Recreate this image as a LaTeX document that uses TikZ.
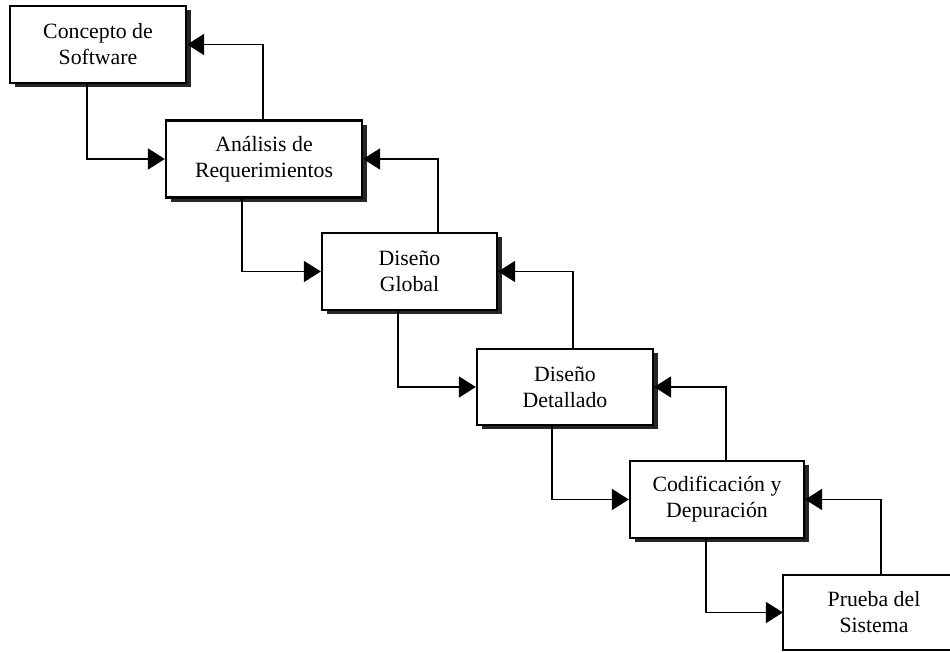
\documentclass[tikz,border=0pt]{standalone}
\usepackage{fontspec}
\setmainfont{Liberation Serif}
\usepackage{tikz}
\usetikzlibrary{arrows.meta, shadows, positioning, calc}
\tikzstyle{arrow} = [line width=1pt, black, -{Triangle[length=0.34cm, width=0.42cm]}]
\tikzstyle{fase} = [draw, line width=1.3pt, fill=white, inner sep=0pt, align=center,
    font=\fontsize{12.4}{14.8}\selectfont, minimum height=1.54cm]
\tikzstyle{sombra} = [drop shadow={shadow xshift=0.09cm, shadow yshift=-0.09cm, fill=black!85, opacity=1}]

\begin{document}
\begin{tikzpicture}
    \useasboundingbox (0,0) rectangle (19,13.06);

    % fases del ciclo
    \node[fase, sombra, minimum width=3.52cm] (concepto) at (1.96,12.17) {Concepto de\\Software};
    \node[fase, sombra, minimum width=3.92cm] (analisis) at (5.28,9.88) {Análisis de\\Requerimientos};
    \node[fase, sombra, minimum width=3.50cm] (global) at (8.19,7.63) {Diseño\\Global};
    \node[fase, sombra, minimum width=3.52cm, minimum height=1.52cm] (detallado) at (11.30,5.32) {Diseño\\Detallado};
    \node[fase, sombra, minimum width=3.48cm] (codificacion) at (14.34,3.07) {Codificación y\\Depuración};
    \node[fase, draw=none, fill=none, minimum width=3.60cm, minimum height=1.50cm] (prueba) at (17.48,0.81) {Prueba del\\Sistema};
    % la ultima caja queda cortada por el borde derecho
    \draw[line width=1.3pt] (19,0.06) -| (prueba.west) |- (19,1.56);

    % flujo hacia abajo
    \draw[arrow] ([xshift=1.56cm]concepto.south west) |- (analisis.west);
    \draw[arrow] ([xshift=1.54cm]analisis.south west) |- (global.west);
    \draw[arrow] ([xshift=1.54cm]global.south west) |- (detallado.west);
    \draw[arrow] ([xshift=1.52cm]detallado.south west) |- (codificacion.west);
    \draw[arrow] ([xshift=1.54cm]codificacion.south west) |- (prueba.west);

    % retroalimentacion
    \draw[arrow] ([xshift=-0.02cm]analisis.north) |- (concepto.east);
    \draw[arrow] ([xshift=0.57cm]global.north) |- (analisis.east);
    \draw[arrow] ([xshift=0.16cm]detallado.north) |- (global.east);
    \draw[arrow] ([xshift=0.18cm]codificacion.north) |- (detallado.east);
    \draw[arrow] ([xshift=1.96cm]prueba.north west) |- (codificacion.east);
\end{tikzpicture}
\end{document}
